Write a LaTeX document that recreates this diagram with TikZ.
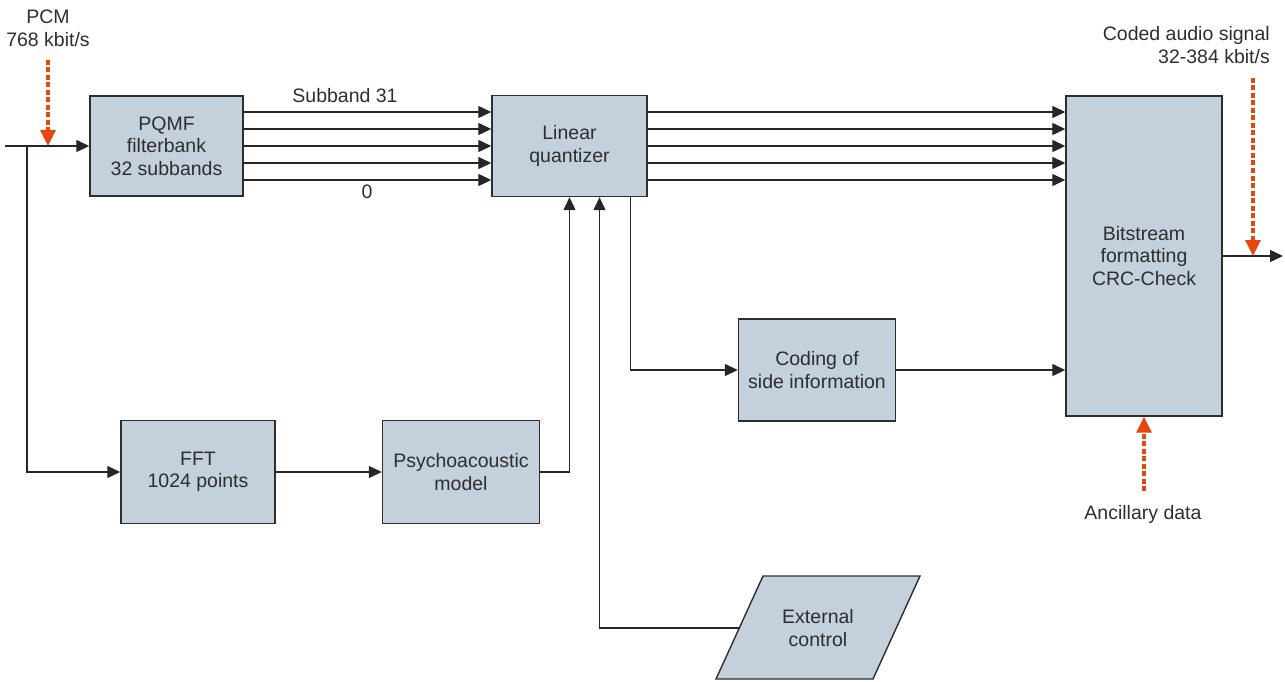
\documentclass[tikz,border=0pt]{standalone}
\usepackage{fontspec}
\setmainfont{Liberation Sans}
\usetikzlibrary{arrows.meta,calc}
\definecolor{boxfill}{HTML}{C4D0DC}
\definecolor{boxline}{HTML}{2E2E2E}
\definecolor{linec}{HTML}{262626}
\definecolor{txt}{HTML}{2E2E2E}
\definecolor{org}{HTML}{E5470C}
\begin{document}
\begin{tikzpicture}[x=1pt,y=-1pt,
  blk/.style={draw=boxline,line width=1.4pt,fill=boxfill,align=center,text=txt,
    font=\fontsize{19.5}{22.5}\selectfont,inner sep=0pt},
  lbl/.style={text=txt,font=\fontsize{19.5}{23}\selectfont,inner sep=0pt},
  arr/.style={draw=linec,line width=1.3pt,-{Triangle[length=13pt,width=12pt]}},
  oarr/.style={draw=org,line width=3.2pt,dash pattern=on 5pt off 2.5pt,
    -{Triangle[length=16pt,width=15pt]}}]
\useasboundingbox (0,0) rectangle (1285,682);
% blocks
\node[blk,minimum width=153pt,minimum height=100pt] (pqmf) at (166.5,146) {PQMF\\filterbank\\32 subbands};
\node[blk,minimum width=155pt,minimum height=101pt] (lq) at (569.5,146) {Linear\\quantizer};
\node[blk,minimum width=156pt,minimum height=320pt] (bs) at (1144,256) {Bitstream\\formatting\\CRC-Check};
\node[blk,minimum width=157pt,minimum height=102pt] (side) at (817,370) {Coding of\\side information};
\node[blk,minimum width=154pt,minimum height=103pt] (fft) at (198,472) {FFT\\1024 points};
\node[blk,minimum width=157pt,minimum height=103pt] (psy) at (461,472) {Psychoacoustic\\model};
% external control parallelogram
\draw[draw=boxline,line width=1.4pt,fill=boxfill] (763,576) -- (920,576) -- (873,679) -- (716,679) -- cycle;
\node[lbl,align=center] (ext) at (818,628) {External\\control};
\coordinate (extin) at (739.5,628);
% labels
\node[lbl,align=center] (pcm) at (48,28) {PCM\\768 kbit/s};
\node[lbl,align=right,anchor=east] (coded) at (1270,45) {Coded audio signal\\32-384 kbit/s};
\node[lbl] (anc) at (1143,514) {Ancillary data};
\node[lbl] (sb31) at (345,96) {Subband 31};
\node[lbl] (sb0) at (367,192) {0};
% coordinates
\coordinate (in) at (5,146);
\coordinate (br) at (27,146);
\coordinate (pcmtop) at (48,60);
\coordinate (pcmend) at (48,146);
\coordinate (out) at (1283,256);
\coordinate (codtop) at (1253,78);
\coordinate (codend) at (1253,256);
\coordinate (anctop) at (1144,491);
% connectors
\draw[arr] (in) -- (pqmf.west);
\draw[arr] (br) |- (fft.west);
\foreach \d in {34,17,0,-17,-34}{
  \draw[arr] ([yshift=\d pt]pqmf.east) -- ([yshift=\d pt]pqmf.east -| lq.west);
  \draw[arr] ([yshift=\d pt]lq.east) -- ([yshift=\d pt]lq.east -| bs.west);
}
\draw[arr] ([xshift=-17pt]lq.south east) |- (side.west);
\draw[arr] (side.east) -- (side.east -| bs.west);
\draw[arr] (fft.east) -- (psy.west);
\draw[arr] (psy.east) -| (lq.south);
\draw[arr] (extin) -| ([xshift=30pt]lq.south);
\draw[arr] (bs.east) -- (out);
% orange arrows
\draw[oarr] (pcmtop) -- (pcmend);
\draw[oarr] (codtop) -- (codend);
\draw[oarr] (anctop) -- (bs.south);
\end{tikzpicture}
\end{document}
